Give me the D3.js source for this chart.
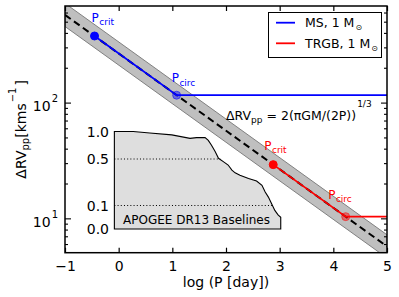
<!DOCTYPE html>
<html><head><meta charset="utf-8">
<script src="https://cdn.jsdelivr.net/npm/d3@7"></script>
<style>body{margin:0;background:#fff} text{font-family:"DejaVu Sans",sans-serif}</style>
</head><body><svg id="c" width="399" height="297"></svg>
<script>
// ---------- data ----------
const xTicks = [-1, 0, 1, 2, 3, 4, 5];
const yMajor = [10, 100];
const yMajorExp = ["1", "2"];
const relationLogP = [-1, 5];
const relationRV = [578, 5.78];
const bandLowRV = [459, 4.59];
const bandHighRV = [728, 7.28];
const msLogP = [-0.45, 1.08, 5];
const msRV = [380, 117, 117];
const trgbLogP = [2.88, 4.23, 5];
const trgbRV = [29.4, 10.45, 10.45];
const legendLabels = ["MS, 1 M", "TRGB, 1 M"];
const baselineLogP = [-0.08, 0.27, 0.58, 0.99, 1.33, 1.45, 1.61, 1.67, 1.73, 1.80, 1.86, 1.95, 2.04, 2.11, 2.17, 2.26, 2.42, 2.57, 2.67, 2.73, 2.79, 2.85, 2.91, 2.97, 3.02];
const baselineFrac = [1.0, 1.0, 0.973, 0.938, 0.875, 0.888, 0.888, 0.839, 0.75, 0.63, 0.513, 0.477, 0.448, 0.404, 0.381, 0.361, 0.332, 0.311, 0.274, 0.216, 0.172, 0.115, 0.079, 0.06, 0.05];
const insetTicks = [0, 0.1, 0.5, 1.0];
const insetTickLabels = ["0.0", "0.1", "0.5", "1.0"];
const insetDotted = [0.1, 0.5];

// ---------- layout ----------
const W = 399, H = 297;
const m = {l: 65, r: 12, t: 6, b: 44.3};
const svg = d3.select("#c");
const x = d3.scaleLinear().domain([-1, 5]).range([m.l, W - m.r]);
const y = d3.scaleLog().domain([5.1, 690]).range([H - m.b, m.t]);
const yi = d3.scaleLinear().domain([0, 0.1, 0.5, 1.0]).range([229, 205.5, 159, 131.5]);

svg.append("defs").append("clipPath").attr("id", "clip")
  .append("rect").attr("x", m.l).attr("y", m.t).attr("width", W - m.l - m.r).attr("height", H - m.t - m.b);
const g = svg.append("g").attr("clip-path", "url(#clip)");

// band
const bandData = relationLogP.map((p, i) => ({p, lo: bandLowRV[i], hi: bandHighRV[i]}));
g.append("path").datum(bandData)
  .attr("d", d3.area().x(d => x(d.p)).y0(d => y(d.lo)).y1(d => y(d.hi)))
  .attr("fill", "#808080").attr("fill-opacity", 0.5)
  .attr("stroke", "#808080").attr("stroke-width", 1);

// dashed relation
const line = d3.line().x(d => x(d[0])).y(d => y(d[1]));
g.append("path").datum(relationLogP.map((p, i) => [p, relationRV[i]]))
  .attr("d", line).attr("fill", "none").attr("stroke", "#000")
  .attr("stroke-width", 2).attr("stroke-dasharray", "7,4");

// series
const series = [
  {P: msLogP, V: msRV, c: "#0000ff", lab: [[-3, -14], [-5, -13]]},
  {P: trgbLogP, V: trgbRV, c: "#ff0000", lab: [[-9, -15], [-17.5, -18]]}
];
series.forEach(s => {
  g.append("path").datum(s.P.map((p, i) => [p, s.V[i]]))
    .attr("d", line).attr("fill", "none").attr("stroke", s.c).attr("stroke-width", 1.8);
});

// inset
const ins = svg.append("g");
const pts = baselineLogP.map((p, i) => [x(p), yi(baselineFrac[i])]);
const n = baselineLogP.length;
const poly = [[x(baselineLogP[0]), yi(0)], ...pts, [x(baselineLogP[n - 1]), yi(0)]];
ins.append("path").attr("d", "M" + poly.map(d => d.join(",")).join("L") + "Z")
  .attr("fill", "#dedede").attr("stroke", "#000").attr("stroke-width", 1.1);
insetDotted.forEach(lv => {
  let xe = baselineLogP[n - 1];
  for (let i = 1; i < n; i++) {
    if (baselineFrac[i] <= lv && baselineFrac[i - 1] > lv) {
      const t = (baselineFrac[i - 1] - lv) / (baselineFrac[i - 1] - baselineFrac[i]);
      xe = baselineLogP[i - 1] + t * (baselineLogP[i] - baselineLogP[i - 1]);
      break;
    }
  }
  ins.append("line").attr("x1", x(baselineLogP[0])).attr("x2", x(xe))
    .attr("y1", yi(lv)).attr("y2", yi(lv))
    .attr("stroke", "#000").attr("stroke-width", 1).attr("stroke-dasharray", "1,2.2");
});
insetTicks.forEach((v, i) => {
  ins.append("text").attr("x", 109).attr("y", yi(v) + 5).attr("text-anchor", "end")
    .attr("font-size", 14).text(insetTickLabels[i]);
});
ins.append("text").attr("x", 123).attr("y", 224).attr("font-size", 12).text("APOGEE DR13 Baselines");

// markers and labels
const mk = svg.append("g");
series.forEach(s => {
  [0, 1].forEach(i => {
    mk.append("circle").attr("cx", x(s.P[i])).attr("cy", y(s.V[i])).attr("r", 4)
      .attr("fill", s.c).attr("fill-opacity", i === 0 ? 1 : 0.45)
      .attr("stroke", s.c).attr("stroke-opacity", i === 0 ? 1 : 0.5).attr("stroke-width", 1);
    const t = mk.append("text").attr("x", x(s.P[i]) + s.lab[i][0]).attr("y", y(s.V[i]) + s.lab[i][1])
      .attr("font-size", 12).attr("fill", s.c);
    t.append("tspan").text("P");
    t.append("tspan").attr("font-size", 9).attr("dy", 3.5).attr("dx", 0.5).text(i === 0 ? "crit" : "circ");
  });
});

// formula
const f = svg.append("text").attr("x", 226).attr("y", 119.5).attr("font-size", 12.5);
f.append("tspan").text("ΔRV");
f.append("tspan").attr("font-size", 9).attr("dy", 3).text("pp");
f.append("tspan").attr("dy", -3).text(" = 2(πGM/(2P))");
f.append("tspan").attr("font-size", 9).attr("dy", -13).attr("dx", 1).text("1/3");

// frame
svg.append("rect").attr("x", m.l).attr("y", m.t).attr("width", W - m.l - m.r).attr("height", H - m.t - m.b)
  .attr("fill", "none").attr("stroke", "#000").attr("stroke-width", 1.5);

// x axis
const xa = svg.append("g").attr("transform", `translate(0,${H - m.b})`)
  .call(d3.axisBottom(x).tickValues(xTicks).tickFormat(d3.format("d")).tickSizeInner(-5).tickSizeOuter(0).tickPadding(8));
xa.select(".domain").remove();
xa.selectAll("text").attr("font-size", 14).attr("font-family", "DejaVu Sans");
xa.selectAll("line").attr("stroke-width", 1.2);
const xt = svg.append("g").attr("transform", `translate(0,${m.t})`)
  .call(d3.axisTop(x).tickValues(xTicks).tickSizeInner(-5).tickSizeOuter(0).tickFormat(""));
xt.select(".domain").remove();
xt.selectAll("line").attr("stroke-width", 1.2);

// y ticks
const [d0, d1] = y.domain();
const minors = [];
for (let dec = 1; dec <= 100; dec *= 10) for (let k = 2; k <= 9; k++) { const v = k * dec; if (v >= d0 && v <= d1) minors.push(v); }
const yt = svg.append("g");
[[yMajor, 6], [minors, 3]].forEach(([vals, len]) => {
  vals.forEach(v => {
    yt.append("line").attr("x1", m.l).attr("x2", m.l + len).attr("y1", y(v)).attr("y2", y(v)).attr("stroke", "#000").attr("stroke-width", 1.1);
    yt.append("line").attr("x1", W - m.r).attr("x2", W - m.r - len).attr("y1", y(v)).attr("y2", y(v)).attr("stroke", "#000").attr("stroke-width", 1.1);
  });
});
yMajor.forEach((v, i) => {
  const t = svg.append("text").attr("x", 58).attr("y", y(v) + 8).attr("text-anchor", "end").attr("font-size", 14);
  t.append("tspan").text("10");
  t.append("tspan").attr("font-size", 10).attr("dy", -9).attr("dx", 1).text(yMajorExp[i]);
});

// axis labels
svg.append("text").attr("x", (m.l + W - m.r) / 2).attr("y", 287).attr("text-anchor", "middle")
  .attr("font-size", 14).text("log (P [day])");
const yl = svg.append("text").attr("transform", `translate(25.5,${(m.t + H - m.b) / 2}) rotate(-90)`)
  .attr("text-anchor", "middle").attr("font-size", 14);
yl.append("tspan").text("ΔRV");
yl.append("tspan").attr("font-size", 10).attr("dy", 3.5).text("pp");
yl.append("tspan").attr("dy", -3.5).text("[kms");
yl.append("tspan").attr("font-size", 10).attr("dy", -10).attr("dx", 1).text("−1");
yl.append("tspan").attr("dy", 10).attr("dx", 2).text("]");

// legend
const lg = svg.append("g");
lg.append("rect").attr("x", 268.5).attr("y", 12.5).attr("width", 113).attr("height", 45)
  .attr("fill", "#fff").attr("stroke", "#000").attr("stroke-width", 1);
series.forEach((s, i) => {
  const yy = 22.7 + i * 20.6;
  lg.append("line").attr("x1", 276).attr("x2", 295).attr("y1", yy).attr("y2", yy).attr("stroke", s.c).attr("stroke-width", 1.8);
  const t = lg.append("text").attr("x", 305).attr("y", yy + 4.6).attr("font-size", 12.5);
  t.append("tspan").text(legendLabels[i]);
  t.append("tspan").attr("font-size", 8).attr("dy", 3).attr("dx", 1).text("⊙");
});
</script></body></html>
